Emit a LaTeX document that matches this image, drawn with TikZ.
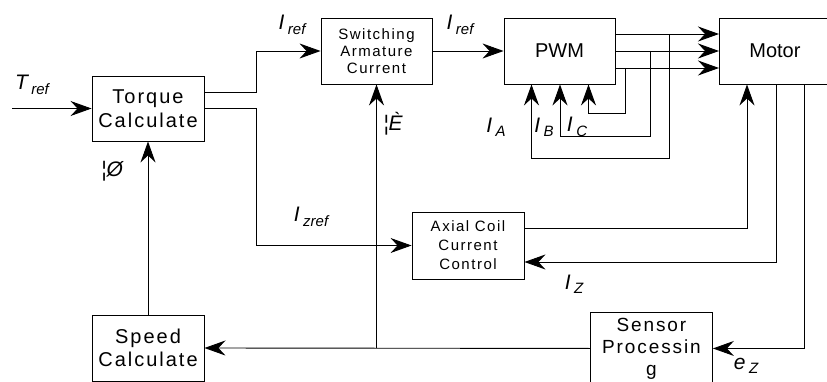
\documentclass[tikz,border=0pt]{standalone}
\usepackage{fontspec}
\setmainfont{Liberation Sans}
\newfontfamily\spacedfont{Liberation Sans}[LetterSpace=10]
\usepackage{tikz}
\usetikzlibrary{arrows.meta,positioning,calc}
\tikzset{
  block/.style={draw=black, line width=0.9pt, inner sep=0pt, align=center},
  flow/.style={-{Stealth[length=21pt,width=15pt,inset=7pt]}, line width=0.9pt},
  sig/.style={font=\fontsize{21}{22}\selectfont\itshape, inner sep=0pt},
}
\newcommand{\sigsub}[2]{#1\,\raisebox{-0.4ex}{\fontsize{15}{16}\selectfont #2}}

\begin{document}
\begin{tikzpicture}[x=1pt,y=-1pt]
        \useasboundingbox (0,0) rectangle (827,382);
        % blocks
        \node[block, minimum width=112pt, minimum height=65pt, font=\spacedfont\fontsize{20}{24}\selectfont] (torque) at (148,108.5) {Torque\\Calculate};
        \node[block, minimum width=112pt, minimum height=66pt, font=\spacedfont\fontsize{20}{23}\selectfont] (speed) at (148,348) {Speed\\Calculate};
        \node[block, minimum width=111pt, minimum height=66pt, font=\spacedfont\fontsize{15}{17}\selectfont] (switch) at (376.5,51) {Switching\\Armature\\Current};
        \node[block, minimum width=111pt, minimum height=66pt, font=\fontsize{20}{24}\selectfont] (pwm) at (559.5,51) {PWM};
        \node[block, minimum width=111pt, minimum height=66pt, anchor=west, font=\fontsize{20}{24}\selectfont] (motor) at (719,51) {Motor};
        \node[block, minimum width=112pt, minimum height=67pt, font=\spacedfont\fontsize{15}{19}\selectfont] (axial) at (468,245.5) {Axial Coil\\Current\\Control};
        \node[block, minimum width=122pt, minimum height=72pt, anchor=north west, font=\spacedfont\fontsize{19}{22}\selectfont] (sensor) at (590,312) {Sensor\\Processin\\g};

        % connectors
        \coordinate (tin) at (12,108.5);
        \draw[flow] (tin) -- (torque.west);
        \draw[flow] ([yshift=16.5pt]torque.east) -- ++(52,0) |- (switch.west);
        \draw[flow] (torque.east) -- ++(52,0) |- (axial.west);
        \draw[flow] (switch.east) -- (pwm.west);
        \foreach \dy in {17,0,-17}
            \draw[flow] ([yshift=\dy pt]pwm.east) -- ([yshift=\dy pt]pwm.east -| motor.west);
        % phase current feedback
        \coordinate (tapA) at (669,34);
        \coordinate (tapB) at (650,51);
        \coordinate (tapC) at (625,68);
        \draw[flow] (tapA) -- (669,158) -| ([xshift=-28pt]pwm.south);
        \draw[flow] (tapB) -- (650,136) -| ([xshift=0.5pt]pwm.south);
        \draw[flow] (tapC) -- (625,113) -| ([xshift=29pt]pwm.south);
        % axial coil loop
        \draw[flow] ([yshift=17.5pt]axial.east) -| ([xshift=28pt]motor.south west);
        \draw[flow] ([xshift=57pt]motor.south west) |- ([yshift=-16.5pt]axial.east);
        \draw[flow] ([xshift=85pt]motor.south west) |- (sensor.east);
        % speed and position
        \draw[flow] (sensor.west) -- (speed.east);
        \coordinate (junc) at (switch.south |- sensor.west);
        \draw[flow] (junc) -- (switch.south);
        \draw[flow] (speed.north) -- (torque.south);

        % signal labels
        \node[sig] (tref) at (32,85) {\sigsub{T}{ref}};
        \node[sig] (iref1) at (292,25) {\sigsub{I}{ref}};
        \node[sig] (iref2) at (460,25) {\sigsub{I}{ref}};
        \node[sig] (ia) at (496,127) {\sigsub{I}{A}};
        \node[sig] (ib) at (544,127) {\sigsub{I}{B}};
        \node[sig] (ic) at (577,127) {\sigsub{I}{C}};
        \node[sig] (izref) at (311,217) {\sigsub{I}{zref}};
        \node[sig] (iz) at (574,284) {\sigsub{I}{Z}};
        \node[sig] (ez) at (746,366) {\sigsub{e}{Z}};
        \node[sig] (theta) at (393,124) {¦È};
        \node[sig] (omega) at (112,171) {¦Ø};
    \end{tikzpicture}
\end{document}
